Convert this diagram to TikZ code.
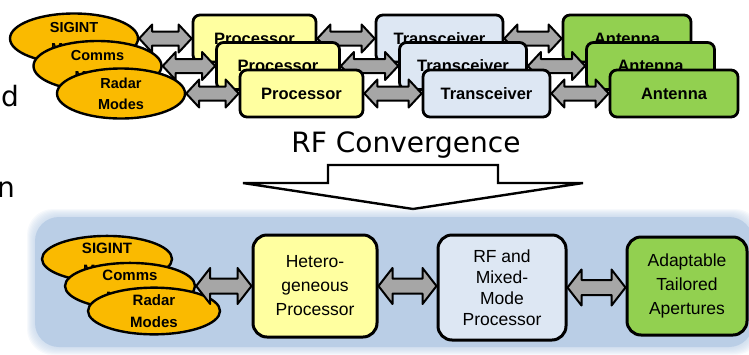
\documentclass[tikz,border=0pt]{standalone}
\usepackage{fontspec}
\setmainfont{Liberation Sans}
\newfontfamily\convfont{DejaVu Sans}
\usetikzlibrary{shapes.geometric}
\usetikzlibrary{calc}

\definecolor{modefill}{RGB}{250,186,0}
\definecolor{procfill}{RGB}{255,255,160}
\definecolor{trxfill}{RGB}{221,231,243}
\definecolor{antfill}{RGB}{146,208,80}
\definecolor{busfill}{RGB}{166,166,166}
\definecolor{panelfill}{RGB}{186,206,230}

% fat two-headed arrow between two nodes of one row:
% #3 half height of the heads, #4 half height of the shaft, #5 head length
\newcommand{\bus}[5]{%
\draw[busStyle] let \p1 = (#1.east), \p2 = (#2.west) in
  (\x1,\y1) -- (\x1+#5,\y1+#3) -- (\x1+#5,\y1+#4) -- (\x2-#5,\y1+#4) -- (\x2-#5,\y1+#3) -- (\x2,\y1)
  -- (\x2-#5,\y1-#3) -- (\x2-#5,\y1-#4) -- (\x1+#5,\y1-#4) -- (\x1+#5,\y1-#3) -- cycle;}

\begin{document}
\begin{tikzpicture}[x = 1pt, y = -1pt]
\tikzstyle{modeStyle} = [shape = ellipse, draw, line width = 2.4pt, fill = modefill, minimum width = 128pt, minimum height = 50pt, inner sep = 0pt, align = center, font = \fontsize{14.5}{21}\selectfont\bfseries]
\tikzstyle{boxStyle} = [shape = rectangle, rounded corners = 7pt, draw, line width = 2.8pt, minimum height = 47pt, inner sep = 0pt, font = \fontsize{16.5}{18}\selectfont\bfseries]
\tikzstyle{blockStyle} = [shape = rectangle, rounded corners = 14pt, draw, line width = 3pt, inner sep = 0pt, align = center, font = \fontsize{17.5}{24}\selectfont]
\tikzstyle{busStyle} = [draw, line width = 2pt, line join = round, fill = busfill]
\tikzstyle{slideText} = [font = \convfont\fontsize{28}{30}\selectfont, inner sep = 0pt]
\useasboundingbox (0,0) rectangle (749,354);

\node[slideText, anchor = base east] (d) at (19,106) {d};
\node[slideText, anchor = base east] (n) at (15,197) {n};

\node[modeStyle] (sigA) at (74,38.5) {SIGINT\\Modes};
\node[boxStyle, fill = procfill, minimum width = 123pt] (procA) at (254.5,38.5) {Processor};
\node[boxStyle, fill = trxfill, minimum width = 127pt] (trxA) at (439.5,38.5) {Transceiver};
\node[boxStyle, fill = antfill, minimum width = 128pt] (antA) at (627,38.5) {Antenna};
\bus{sigA}{procA}{14pt}{7pt}{13pt}
\bus{procA}{trxA}{14pt}{7pt}{13pt}
\bus{trxA}{antA}{14pt}{7pt}{13pt}

\node[modeStyle] (commB) at (97.5,66) {Comms\\Modes};
\node[boxStyle, fill = procfill, minimum width = 123pt] (procB) at (278,66) {Processor};
\node[boxStyle, fill = trxfill, minimum width = 127pt] (trxB) at (463,66) {Transceiver};
\node[boxStyle, fill = antfill, minimum width = 128pt] (antB) at (650.5,66) {Antenna};
\bus{commB}{procB}{14pt}{7pt}{13pt}
\bus{procB}{trxB}{14pt}{7pt}{13pt}
\bus{trxB}{antB}{14pt}{7pt}{13pt}

\node[modeStyle] (radarC) at (121,93.5) {Radar\\Modes};
\node[boxStyle, fill = procfill, minimum width = 123pt] (procC) at (301.5,93.5) {Processor};
\node[boxStyle, fill = trxfill, minimum width = 127pt] (trxC) at (486.5,93.5) {Transceiver};
\node[boxStyle, fill = antfill, minimum width = 128pt] (antC) at (674,93.5) {Antenna};
\bus{radarC}{procC}{14pt}{7pt}{13pt}
\bus{procC}{trxC}{14pt}{7pt}{13pt}
\bus{trxC}{antC}{14pt}{7pt}{13pt}

\node[slideText, anchor = base] (conv) at (406,152) {RF Convergence};
\draw[line width = 2.4pt, fill = white] (328,165) -- (498,165) -- (498,183) -- (583,183) -- (413,209) -- (243,183) -- (328,183) -- cycle;

\foreach \g in {8,7,...,1}
  \fill[panelfill, opacity = 0.12, rounded corners = 26pt] (35-\g,217-\g) rectangle (753+\g,347+\g);
\fill[panelfill, rounded corners = 24pt] (35,217) rectangle (753,347);

\node[modeStyle, minimum width = 130pt, minimum height = 42pt, font = \fontsize{15}{22}\selectfont\bfseries] (sig) at (107,259) {SIGINT\\Modes};
\node[modeStyle, minimum width = 130pt, minimum height = 42pt, font = \fontsize{15}{22}\selectfont\bfseries] (comm) at (130,286) {Comms\\Modes};
\node[modeStyle, minimum width = 132pt, minimum height = 42pt, font = \fontsize{15}{22}\selectfont\bfseries] (radar) at (154,311) {Radar\\Modes};
\node[blockStyle, fill = procfill, minimum width = 124pt, minimum height = 102pt] (hetero) at (315,286) {Hetero-\\geneous\\Processor};
\node[blockStyle, fill = trxfill, minimum width = 128pt, minimum height = 105pt, font = \fontsize{17.5}{21}\selectfont] (mixed) at (502,287.5) {RF and\\Mixed-\\Mode\\Processor};
\node[blockStyle, fill = antfill, minimum width = 120pt, minimum height = 98pt] (aperture) at (687,286) {Adaptable\\Tailored\\Apertures};
\bus{comm}{hetero}{18pt}{7.5pt}{14pt}
\bus{hetero}{mixed}{18pt}{7.5pt}{14pt}
\bus{mixed}{aperture}{18pt}{7.5pt}{14pt}
\end{tikzpicture}
\end{document}
